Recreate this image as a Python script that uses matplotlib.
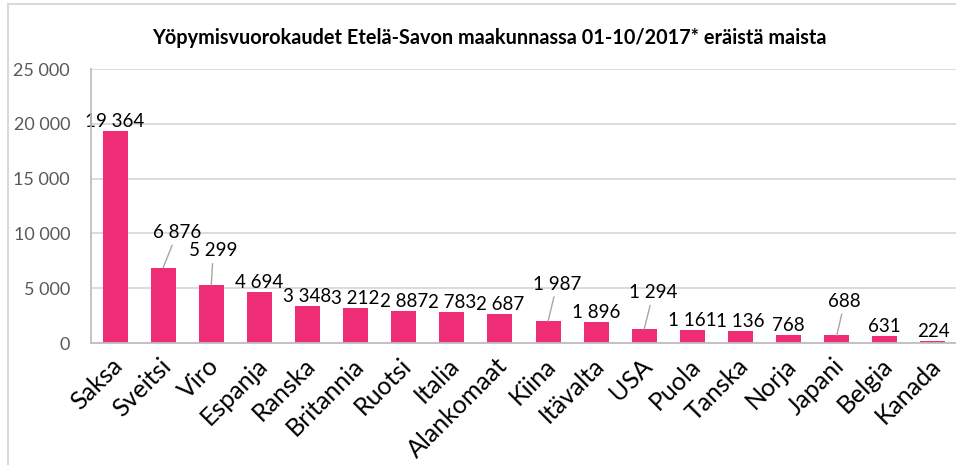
import matplotlib as mpl
import matplotlib.pyplot as plt
from matplotlib.patches import Rectangle
from matplotlib.transforms import ScaledTranslation

mpl.use("Agg")

COUNTRIES = ["Saksa", "Sveitsi", "Viro", "Espanja", "Ranska", "Britannia", "Ruotsi",
             "Italia", "Alankomaat", "Kiina", "Itävalta", "USA", "Puola", "Tanska",
             "Norja", "Japani", "Belgia", "Kanada"]
NIGHTS = [19364, 6876, 5299, 4694, 3348, 3212, 2887, 2783, 2687, 1987, 1896, 1294,
          1161, 1136, 768, 688, 631, 224]
Y_TICKS = [0, 5000, 10000, 15000, 20000, 25000]
TITLE = "Yöpymisvuorokaudet Etelä-Savon maakunnassa 01-10/2017* eräistä maista"

# labels Excel moved away from the bar (with leader line): offset in px (dx, dy)
MOVED_LABELS = {"Sveitsi": (14, 35), "Viro": (2, 34), "Kiina": (9, 37),
                "USA": (9, 36), "Japani": (8, 34)}

BAR_COLOR = "#EE2D76"
GRID_COLOR = "#D9D9D9"
FONT = "Lato"
DPI = 100
W, H = 956, 465


def fmt(v):
    return f"{v:,}".replace(",", " ")


def px(p):
    return p * 72 / DPI


plt.rcParams["font.family"] = [FONT, "DejaVu Sans"]

fig = plt.figure(figsize=(W / DPI, H / DPI), dpi=DPI)
ax = fig.add_axes([91 / W, 1 - 343 / H, (957 - 91) / W, (343 - 69) / H])

x = list(range(len(COUNTRIES)))
ax.bar(x, NIGHTS, width=0.52, color=BAR_COLOR, zorder=3)

ax.set_xlim(-0.5, len(COUNTRIES) - 0.5)
ax.set_ylim(0, 25000)
ax.set_yticks(Y_TICKS)
ax.set_yticklabels([fmt(t) for t in Y_TICKS], color="#595959", fontsize=13)
ax.yaxis.grid(True, color=GRID_COLOR, linewidth=1.3, zorder=0)
ax.tick_params(axis="both", length=0)
ax.tick_params(axis="y", pad=px(21))
ax.tick_params(axis="x", pad=px(19))

ax.set_xticks(x)
ax.set_xticklabels(COUNTRIES, rotation=45, ha="right", va="center",
                   rotation_mode="anchor", fontsize=18, color="black")
shift = ScaledTranslation(4 / DPI, 0, fig.dpi_scale_trans)
for lab in ax.get_xticklabels():
    lab.set_transform(lab.get_transform() + shift)

for s in ["top", "right"]:
    ax.spines[s].set_visible(False)
for s in ["left", "bottom"]:
    ax.spines[s].set_color("#BFBFBF")
    ax.spines[s].set_linewidth(1.3)
    ax.spines[s].set_zorder(4)

for i, (name, v) in enumerate(zip(COUNTRIES, NIGHTS)):
    if name in MOVED_LABELS:
        dx, dy = MOVED_LABELS[name]
        ax.annotate(fmt(v), xy=(i, v), xytext=(px(dx), px(dy)), textcoords="offset points",
                    ha="center", va="center", fontsize=13.5, color="black",
                    arrowprops=dict(arrowstyle="-", color="#A6A6A6", lw=1,
                                    shrinkA=1, shrinkB=0))
    else:
        ax.annotate(fmt(v), xy=(i, v), xytext=(0, px(1)), textcoords="offset points",
                    ha="center", va="bottom", fontsize=13.5, color="black")

fig.text(489 / W, 1 - 38 / H, TITLE, ha="center", va="center",
         fontsize=14.3, fontweight="bold", color="black")

fig.patches.append(Rectangle((8 / W, -0.1), 1.2, 1 - 4 / H + 0.1, transform=fig.transFigure,
                             fill=False, edgecolor=GRID_COLOR, linewidth=1.5))

fig.savefig("out.png", dpi=DPI)
